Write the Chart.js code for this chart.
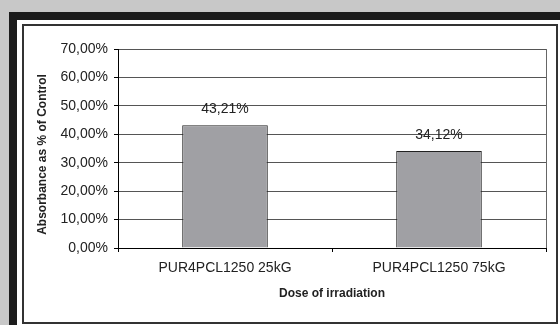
<!DOCTYPE html>
<html>
<head>
<meta charset="utf-8">
<script src="https://cdn.jsdelivr.net/npm/chart.js@4/dist/chart.umd.min.js"></script>
<style>
  html, body { margin: 0; padding: 0; }
  body { width: 560px; height: 325px; background: #c8c8c8; position: relative; overflow: hidden; }
  .frame { position: absolute; left: 9px; top: 12px; width: 600px; height: 400px; background: #1c1c1c; }
  .panel { position: absolute; left: 17px; top: 20px; width: 600px; height: 400px; background: #ffffff; }
  .box { position: absolute; left: 22px; top: 24px; width: 532px; height: 296px; border: 2px solid #333; }
  canvas { position: absolute; left: 0; top: 0; }
</style>
</head>
<body>
<div class="frame"></div>
<div class="panel"></div>
<div class="box"></div>
<canvas id="chart" width="560" height="325"></canvas>
<script>
// Absorbance relative to control, per irradiation dose
const categories = ['PUR4PCL1250 25kG', 'PUR4PCL1250 75kG'];
const absorbancePct = [43.21, 34.12];
const yTicks = [0, 10, 20, 30, 40, 50, 60, 70];
const yTitle = 'Absorbance as % of Control';
const xTitle = 'Dose of irradiation';

const FONT = '"Liberation Sans", Arial, sans-serif';
const fmt = v => v.toFixed(2).replace('.', ',') + '%';

// Value labels above each bar
const valueLabels = {
  id: 'valueLabels',
  afterDatasetsDraw(chart) {
    const ctx = chart.ctx;
    const meta = chart.getDatasetMeta(0);
    ctx.save();
    ctx.font = '14px ' + FONT;
    ctx.fillStyle = '#222';
    ctx.textAlign = 'center';
    ctx.textBaseline = 'middle';
    meta.data.forEach((bar, i) => {
      ctx.fillText(fmt(absorbancePct[i]), bar.x, bar.y - 16);
    });
    ctx.restore();
  }
};

// Right-hand edge of the plot area
const plotEdge = {
  id: 'plotEdge',
  beforeDatasetsDraw(chart) {
    const { ctx, chartArea } = chart;
    ctx.save();
    ctx.strokeStyle = '#666';
    ctx.lineWidth = 1;
    ctx.beginPath();
    ctx.moveTo(Math.round(chartArea.right) + 0.5, chartArea.top);
    ctx.lineTo(Math.round(chartArea.right) + 0.5, chartArea.bottom);
    ctx.stroke();
    ctx.restore();
  }
};

// Vertical axis title, set a little below the plot's middle
const yAxisTitle = {
  id: 'yAxisTitle',
  afterDraw(chart) {
    const { ctx, chartArea } = chart;
    const ys = chart.scales.y;
    ctx.save();
    ctx.font = 'bold 12px ' + FONT;
    ctx.fillStyle = '#222';
    ctx.textAlign = 'center';
    ctx.textBaseline = 'middle';
    ctx.translate(ys.left + 43, (chartArea.top + chartArea.bottom) / 2 + 6);
    ctx.rotate(-Math.PI / 2);
    ctx.fillText(yTitle, 0, 0);
    ctx.restore();
  }
};

new Chart(document.getElementById('chart'), {
  type: 'bar',
  data: {
    labels: categories,
    datasets: [{
      data: absorbancePct,
      backgroundColor: '#a0a0a4',
      borderColor: '#222',
      borderWidth: 1,
      categoryPercentage: 1,
      barPercentage: 0.4
    }]
  },
  options: {
    responsive: false,
    animation: false,
    devicePixelRatio: 1,
    layout: { padding: { left: 0, top: 49, right: 14, bottom: 0 } },
    plugins: { legend: { display: false }, tooltip: { enabled: false } },
    scales: {
      x: {
        grid: { offset: true, drawOnChartArea: false, drawTicks: true, tickLength: 4, tickColor: '#000' },
        border: { color: '#000', width: 1 },
        ticks: { font: { family: FONT, size: 14 }, color: '#222', padding: 8, maxRotation: 0 },
        title: {
          display: true,
          text: xTitle,
          font: { family: FONT, size: 12, weight: 'bold' },
          color: '#222',
          padding: { top: 0, bottom: 24 }
        },
        afterFit(s) { s.height = 77; }
      },
      y: {
        min: 0,
        max: 70,
        afterBuildTicks(s) { s.ticks = yTicks.map(v => ({ value: v })); },
        grid: { color: '#555', lineWidth: 1, drawTicks: true, tickLength: 4, tickColor: '#000' },
        border: { color: '#000', width: 1 },
        ticks: { font: { family: FONT, size: 14 }, color: '#222', padding: 6, callback: v => fmt(v) },
        afterFit(s) { s.width = 118; }
      }
    }
  },
  plugins: [valueLabels, plotEdge, yAxisTitle]
});
</script>
</body>
</html>
